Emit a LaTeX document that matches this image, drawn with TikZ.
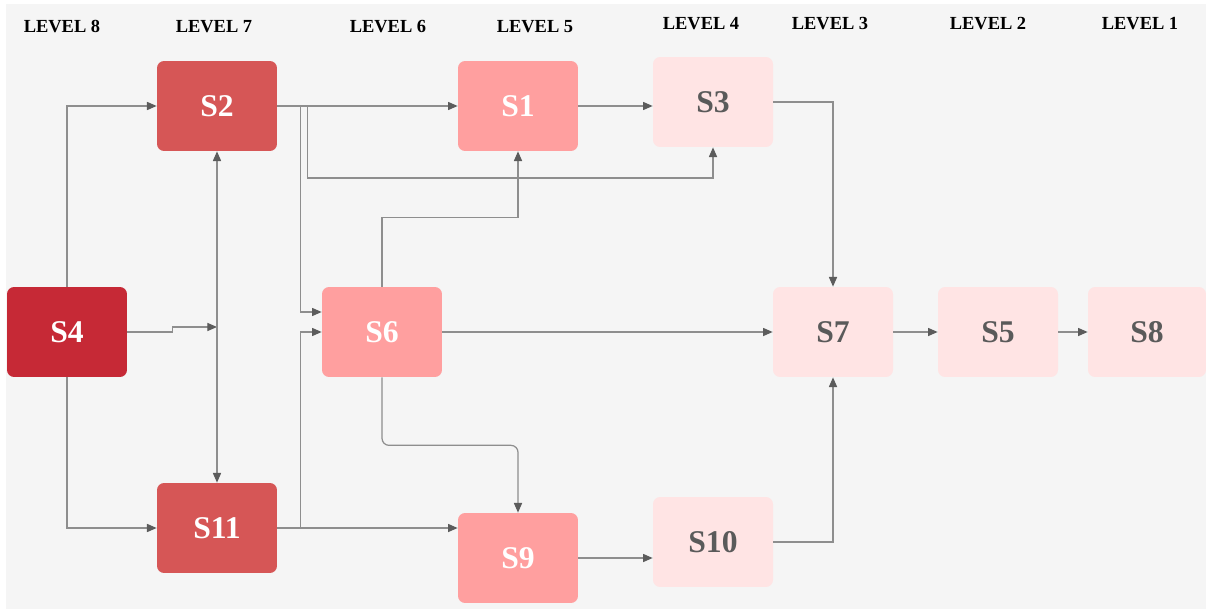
\documentclass[tikz,border=0pt]{standalone}
\usepackage{fontspec}
\setmainfont{Liberation Serif}
\usepackage{xcolor}
\usepackage{tikz}
\usetikzlibrary{positioning,arrows.meta,calc}
\definecolor{bgFill}{HTML}{F5F5F5}
\definecolor{darkFill}{HTML}{C62936}
\definecolor{midFill}{HTML}{D65656}
\definecolor{lightFill}{HTML}{FF9F9F}
\definecolor{paleFill}{HTML}{FFE4E4}
\definecolor{paleText}{HTML}{5A5A5A}
\definecolor{lineCol}{HTML}{8E8E8E}
\definecolor{tipCol}{HTML}{5C5C5C}

\begin{document}
\begin{tikzpicture}[
  x=0.02cm, y=-0.02cm,
  font=\bfseries,
  sbox/.style={rounded corners=4pt, minimum width=2.4cm, minimum height=1.8cm,
               inner sep=0pt, font=\fontsize{18}{18}\selectfont\bfseries},
  s8box/.style={sbox, fill=darkFill, text=white},
  s7box/.style={sbox, fill=midFill, text=white},
  s5box/.style={sbox, fill=lightFill, text=white},
  s1box/.style={sbox, fill=paleFill, text=paleText},
  lvl/.style={font=\fontsize{10.5}{11}\selectfont\bfseries, text=black},
  flow/.style={-{Triangle[length=5.5pt,width=4.6pt,color=tipCol]}, line width=0.7pt, draw=lineCol},
  both/.style={{Triangle[length=5.5pt,width=4.6pt,color=tipCol]}-{Triangle[length=5.5pt,width=4.6pt,color=tipCol]},
               line width=0.7pt, draw=lineCol},
]

% ---- Fondo ----
\useasboundingbox (0,0) rectangle (1206,611);
\fill[bgFill] (6,4) rectangle (1206,609);

% ---- Niveles ----
\node[lvl] (lv8) at (62,27)   {LEVEL 8};
\node[lvl] (lv7) at (214,27)  {LEVEL 7};
\node[lvl] (lv6) at (388,27)  {LEVEL 6};
\node[lvl] (lv5) at (535,27)  {LEVEL 5};
\node[lvl] (lv4) at (701,24)  {LEVEL 4};
\node[lvl] (lv3) at (830,24)  {LEVEL 3};
\node[lvl] (lv2) at (988,24)  {LEVEL 2};
\node[lvl] (lv1) at (1140,24) {LEVEL 1};

% ---- Estados ----
\node[s8box] (S4)  at (67,332)   {S4};
\node[s7box] (S2)  at (217,106)  {S2};
\node[s7box] (S11) at (217,528)  {S11};
\node[s5box] (S6)  at (382,332)  {S6};
\node[s5box] (S1)  at (518,106)  {S1};
\node[s5box] (S9)  at (518,558)  {S9};
\node[s1box] (S3)  at (713,102)  {S3};
\node[s1box] (S10) at (713,542)  {S10};
\node[s1box] (S7)  at (833,332)  {S7};
\node[s1box] (S5)  at (998,332)  {S5};
\node[s1box, minimum width=2.36cm] (S8) at (1147,332) {S8};

\coordinate (jn) at (217,327);

% ---- Flechas desde S4 ----
\draw[flow] (S4.north) |- (S2.west);
\draw[flow] (S4.south) |- (S11.west);
\draw[flow] (S4.east) -- ++(45,0) -- ++(0,-5) -- (jn);
\draw[both] (S2.south) -- (S11.north);

% ---- Flechas desde S2 y S11 ----
\draw[flow] (S2.east) -- (S1.west);
\draw[flow] (S2.east) -- ++(30,0) -- ++(0,72) -| (S3.south);
\draw[flow] (S2.east) -- ++(23,0) |- ($(S6.west)+(0,-20)$);
\draw[flow] (S11.east) -- (S11.east -| S9.west);
\draw[flow] (S11.east) -- ++(23,0) |- (S6.west);

% ---- Flechas desde S6 ----
\draw[flow] (S6.north) -- ++(0,-69) -| (S1.south);
\draw[flow] (S6.east) -- (S7.west);
\draw[flow, rounded corners=4pt] (S6.south) -- ++(0,68) -| (S9.north);

% ---- Niveles inferiores ----
\draw[flow] (S1.east) -- (S1.east -| S3.west);
\draw[flow] (S9.east) -- (S9.east -| S10.west);
\draw[flow] (S3.east) -| (S7.north);
\draw[flow] (S10.east) -| (S7.south);
\draw[flow] (S7.east) -- (S5.west);
\draw[flow] (S5.east) -- (S8.west);

\end{tikzpicture}
\end{document}
